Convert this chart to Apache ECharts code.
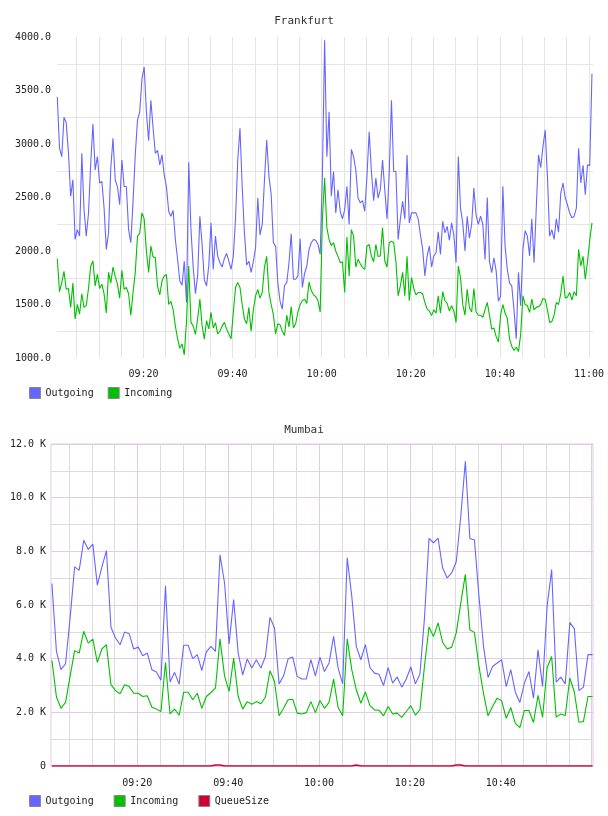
<!DOCTYPE html>
<html>
<head>
<meta charset="utf-8">
<script src="https://cdn.jsdelivr.net/npm/echarts@6/dist/echarts.min.js"></script>
<style>
html,body{margin:0;padding:0;background:#fff;}
#chart{width:608px;height:816px;}
</style>
</head>
<body>
<div id="chart"></div>
<script>
// ---------- DATA ----------
const frankfurtTitle = 'Frankfurt';
const mumbaiTitle = 'Mumbai';
const frankfurtSeriesNames = ['Outgoing', 'Incoming'];
const mumbaiSeriesNames = ['Outgoing', 'Incoming', 'QueueSize'];

// sampling: first sample time and step (seconds)
const frankfurtStart = '09:00:40';
const frankfurtStepSec = 30;
const mumbaiStart = '09:01:12';
const mumbaiStepSec = 60;

// axis ranges (clock times)
const frankfurtRange = ['09:00:36', '11:00:54'];
const mumbaiRange = ['09:01:00', '11:00:18'];
const frankfurtYTicks = [1000, 1500, 2000, 2500, 3000, 3500, 4000];
const mumbaiYTicks = [0, 2000, 4000, 6000, 8000, 10000, 12000];

const frankfurtOutgoing = [3440,2960,2882,3250,3200,2920,2511,2666,2108,2200,
2140,2913,2387,2139,2350,2820,3186,2758,2882,2635,
2650,2402,2015,2170,2774,3053,2666,2600,2433,2850,
2604,2600,2200,2077,2464,2900,3223,3300,3610,3719,
3300,3030,3409,3150,2913,2940,2805,2898,2712,2600,
2371,2325,2380,2108,1921,1720,1680,1905,1518,2830,
2200,1850,1600,1767,2325,2060,1730,1674,1865,2263,
1828,2140,1952,1890,1850,1930,1977,1905,1828,1950,
2300,2850,3146,2600,2170,1870,1905,1800,1900,2030,
2496,2150,2250,2666,3037,2700,2530,2077,2046,1700,
1530,1457,1680,1705,1890,2161,1736,1736,1767,2114,
1659,1790,1860,2015,2077,2108,2100,2061,1968,2712,
3970,2880,3300,2511,2743,2356,2573,2371,2300,2387,
2604,2247,2950,2882,2758,2495,2450,2470,2371,2700,
3115,2743,2470,2681,2495,2573,2850,2573,2300,2727,
3409,2743,2743,2108,2300,2464,2300,2898,2263,2356,
2356,2356,2300,2154,2015,1767,1953,2046,1850,1953,
1984,2180,1968,2278,2170,2230,2100,2263,2150,1890,
2882,2400,2263,2000,2325,2120,2250,2588,2330,2250,
2325,2250,1921,2500,1900,1798,1937,1814,1530,1581,
2604,2046,1828,1700,1674,1450,1179,1800,1488,2015,
2190,2139,1953,2300,1890,2400,2898,2780,2975,3130,
2700,2139,2200,2108,2300,2176,2542,2635,2500,2430,
2356,2310,2325,2400,2960,2635,2800,2526,2805,2800,
3657];

const frankfurtIncoming = [1928,1620,1705,1810,1643,1650,1473,1700,1365,1500,
1411,1600,1473,1489,1650,1860,1907,1674,1783,1650,
1690,1600,1420,1800,1700,1850,1760,1690,1560,1820,
1643,1659,1600,1400,1612,1800,2139,2165,2356,2300,
2000,1800,2046,1945,1938,1670,1590,1720,1767,1780,
1500,1530,1450,1300,1180,1090,1132,1030,1340,1860,
1333,1300,1220,1365,1550,1300,1175,1350,1272,1427,
1280,1330,1225,1250,1300,1333,1270,1225,1179,1420,
1659,1705,1660,1500,1365,1320,1473,1250,1450,1581,
1640,1560,1612,1850,1950,1612,1500,1405,1225,1320,
1310,1250,1210,1400,1290,1480,1280,1320,1430,1500,
1535,1550,1510,1710,1630,1590,1575,1535,1430,2300,
2681,2216,2108,2050,2077,2000,1950,1891,1900,1612,
2130,1767,2200,2139,1850,1922,1880,1845,1830,2046,
2060,1953,1900,2061,1950,1953,2216,1907,1850,2077,
2092,2080,1900,1581,1674,1800,1581,1950,1535,1752,
1650,1590,1612,1612,1600,1520,1457,1440,1396,1450,
1420,1581,1420,1620,1535,1510,1440,1489,1440,1333,
1860,1750,1500,1400,1643,1470,1430,1650,1430,1400,
1400,1380,1450,1520,1400,1270,1280,1200,1150,1400,
1500,1420,1370,1179,1110,1070,1100,1060,1220,1581,
1500,1490,1427,1550,1450,1473,1480,1500,1557,1550,
1450,1333,1340,1400,1520,1500,1600,1767,1560,1570,
1612,1540,1620,1581,2015,1860,1950,1736,1900,2100,
2263];

const mumbaiOutgoing = [6800,4270,3590,3810,5500,7420,7290,8410,8070,8270,
6740,7410,8030,5170,4770,4520,4990,4930,4360,4430,
4110,4210,3590,3500,3200,6720,3130,3490,3050,4500,
4500,4000,4150,3560,4250,4460,4270,7870,6820,4550,
6200,4210,3400,3990,3650,3960,3650,4080,5540,5140,
3060,3360,4000,4060,3340,3240,3240,3960,3360,4060,
3520,3840,4830,3650,3060,7760,6330,4460,3960,4520,
3670,3460,3420,3000,3670,3090,3320,2940,3240,3690,
3060,3420,5500,8480,8320,8490,7380,7010,7200,7610,
9310,11360,8480,8420,6330,4460,3300,3710,3840,3960,
2960,3590,2750,2370,3090,3520,2530,4330,2960,5950,
7320,3130,3310,3060,5350,5110,2810,2940,4150,4150];

const mumbaiIncoming = [3940,2570,2150,2370,3340,4300,4210,5020,4580,4730,
3860,4360,4520,3030,2810,2690,3030,2960,2710,2710,
2590,2620,2190,2120,2030,3860,1940,2120,1890,2750,
2750,2470,2710,2150,2590,2740,2900,4740,3360,2780,
4020,2590,2120,2400,2300,2400,2320,2570,3550,3150,
1870,2150,2470,2490,1970,1940,1990,2400,1990,2440,
2150,2370,3240,2180,1870,4740,3590,2840,2340,2760,
2250,2090,2080,1870,2220,1940,1970,1810,2030,2250,
1900,2090,3710,5180,4830,5330,4610,4360,4430,4960,
6080,7140,5080,4980,3710,2710,1870,2220,2530,2430,
1780,2180,1590,1430,2070,2070,1620,2630,1810,3670,
4080,1820,1940,1880,3280,2750,1630,1660,2590,2590];

const mumbaiQueue = [0,0,0,0,0,0,0,0,0,0,
0,0,0,0,0,0,0,0,0,0,
0,0,0,0,0,0,0,0,0,0,
0,0,0,0,0,0,40,40,0,0,
0,0,0,0,0,0,0,0,0,0,
0,0,0,0,0,0,0,0,0,0,
0,0,0,0,0,0,0,40,0,0,
0,0,0,0,0,0,0,0,0,0,
0,0,0,0,0,0,0,0,0,40,
40,0,0,0,0,0,0,0,0,0,
0,0,0,0,0,0,0,0,0,0,
0,0,0,0,0,0,0,0,0,0];

// ---------- HELPERS ----------
function toMin(hms) { // minutes after 09:00
  const p = hms.split(':').map(Number);
  return (p[0] - 9) * 60 + p[1] + (p[2] || 0) / 60;
}
function pad(n) { return (n < 10 ? '0' : '') + n; }
function clock(t) {
  const total = Math.round(t);
  return pad(9 + Math.floor(total / 60)) + ':' + pad(total % 60);
}
function isMult(v, m) { return Math.abs(v - Math.round(v / m) * m) < 1e-6; }
function pairs(startHms, stepSec, values) {
  const s = toMin(startHms);
  return values.map((v, i) => [s + i * stepSec / 60, v]);
}

const FONT = 'DejaVu Sans Mono';
const TXT = '#222';
const GRAY = '#e4e4e4';
const MGRAY = '#dcdcdc';
const PINK = '#e3c8e8';
const BLUE = '#6666ff';
const GREEN = '#00c000';
const RED = '#cc0033';

const fMin = toMin(frankfurtRange[0]), fMax = toMin(frankfurtRange[1]);
const mMin = toMin(mumbaiRange[0]), mMax = toMin(mumbaiRange[1]);

const chart = echarts.init(document.getElementById('chart'), null, {renderer: 'canvas'});

const hidden = {
  axisLabel: {show: false}, axisLine: {show: false}, axisTick: {show: false}
};

const option = {
  animation: false,
  backgroundColor: '#ffffff',
  title: [
    {text: frankfurtTitle, left: 'center', top: 11,
     textStyle: {fontFamily: FONT, fontSize: 11, fontWeight: 'normal', color: '#333'}},
    {text: mumbaiTitle, left: 'center', top: 420,
     textStyle: {fontFamily: FONT, fontSize: 11, fontWeight: 'normal', color: '#333'}}
  ],
  legend: [
    {data: frankfurtSeriesNames, left: 24, top: 382, icon: 'rect', itemWidth: 11, itemHeight: 11,
     itemGap: 14, itemStyle: {borderColor: '#888', borderWidth: 1},
     textStyle: {fontFamily: FONT, fontSize: 10, color: TXT}},
    {data: mumbaiSeriesNames, left: 24, top: 790, icon: 'rect', itemWidth: 11, itemHeight: 11,
     itemGap: 20, itemStyle: {borderColor: '#888', borderWidth: 1},
     textStyle: {fontFamily: FONT, fontSize: 10, color: TXT}}
  ],
  grid: [
    {left: 57, top: 37, width: 536, height: 321, show: false},
    {left: 51, top: 444, width: 542, height: 322, show: true, borderColor: PINK, borderWidth: 1,
     backgroundColor: 'transparent'}
  ],
  xAxis: [
    { // Frankfurt
      type: 'value', gridIndex: 0, position: 'bottom', min: fMin, max: fMax,
      minInterval: 5, maxInterval: 5,
      axisLine: {show: false}, axisTick: {show: false},
      splitLine: {show: true, showMinLine: false, showMaxLine: false, lineStyle: {color: GRAY, width: 1}},
      axisLabel: {margin: 11, fontFamily: FONT, fontSize: 10, color: TXT,
        formatter: v => (isMult(v, 20) && v > 0.01) ? clock(v) : ''}
    },
    Object.assign({ // Mumbai minor
      type: 'value', gridIndex: 1, position: 'bottom', min: mMin, max: mMax,
      minInterval: 5, maxInterval: 5,
      splitLine: {show: true, showMinLine: false, showMaxLine: false, lineStyle: {color: MGRAY, width: 1}}
    }, hidden),
    { // Mumbai major
      type: 'value', gridIndex: 1, position: 'bottom', min: mMin, max: mMax,
      minInterval: 20, maxInterval: 20,
      axisLine: {show: false}, axisTick: {show: false},
      splitLine: {show: true, showMinLine: false, showMaxLine: false, lineStyle: {color: PINK, width: 1}},
      axisLabel: {margin: 12, fontFamily: FONT, fontSize: 10, color: TXT,
        formatter: v => (isMult(v, 20) && v > 0.01 && v < 119) ? clock(v) : ''}
    }
  ],
  yAxis: [
    { // Frankfurt
      type: 'value', gridIndex: 0, position: 'left',
      min: frankfurtYTicks[0], max: frankfurtYTicks[frankfurtYTicks.length - 1], interval: 250,
      axisLine: {show: false}, axisTick: {show: false},
      splitLine: {show: true, lineStyle: {color: ['rgba(0,0,0,0)', GRAY], width: 1}},
      axisLabel: {margin: 6, fontFamily: FONT, fontSize: 10, color: TXT,
        formatter: v => frankfurtYTicks.indexOf(v) >= 0 ? v.toFixed(1) : ''}
    },
    Object.assign({ // Mumbai minor
      type: 'value', gridIndex: 1, position: 'left',
      min: mumbaiYTicks[0], max: mumbaiYTicks[mumbaiYTicks.length - 1], interval: 1000,
      splitLine: {show: true, lineStyle: {color: MGRAY, width: 1}}
    }, hidden),
    { // Mumbai major
      type: 'value', gridIndex: 1, position: 'left',
      min: mumbaiYTicks[0], max: mumbaiYTicks[mumbaiYTicks.length - 1], interval: 2000,
      axisLine: {show: false}, axisTick: {show: false},
      splitLine: {show: true, lineStyle: {color: PINK, width: 1}},
      axisLabel: {margin: 5, fontFamily: FONT, fontSize: 10, color: TXT,
        formatter: v => v === 0 ? '0' : (v / 1000).toFixed(1) + ' K'}
    }
  ],
  series: [
    {name: 'Outgoing', type: 'line', xAxisIndex: 0, yAxisIndex: 0, showSymbol: false, symbol: 'none',
     color: BLUE, lineStyle: {width: 1.1, color: BLUE}, data: pairs(frankfurtStart, frankfurtStepSec, frankfurtOutgoing)},
    {name: 'Incoming', type: 'line', xAxisIndex: 0, yAxisIndex: 0, showSymbol: false, symbol: 'none',
     color: GREEN, lineStyle: {width: 1.1, color: GREEN}, data: pairs(frankfurtStart, frankfurtStepSec, frankfurtIncoming)},
    {name: 'Outgoing', type: 'line', xAxisIndex: 1, yAxisIndex: 1, showSymbol: false, symbol: 'none',
     color: BLUE, lineStyle: {width: 1.1, color: BLUE}, data: pairs(mumbaiStart, mumbaiStepSec, mumbaiOutgoing)},
    {name: 'Incoming', type: 'line', xAxisIndex: 1, yAxisIndex: 1, showSymbol: false, symbol: 'none',
     color: GREEN, lineStyle: {width: 1.1, color: GREEN}, data: pairs(mumbaiStart, mumbaiStepSec, mumbaiIncoming)},
    {name: 'QueueSize', type: 'line', xAxisIndex: 1, yAxisIndex: 1, showSymbol: false, symbol: 'none',
     color: RED, lineStyle: {width: 1.5, color: RED}, data: pairs(mumbaiStart, mumbaiStepSec, mumbaiQueue)}
  ]
};
chart.setOption(option);
</script>
</body>
</html>
